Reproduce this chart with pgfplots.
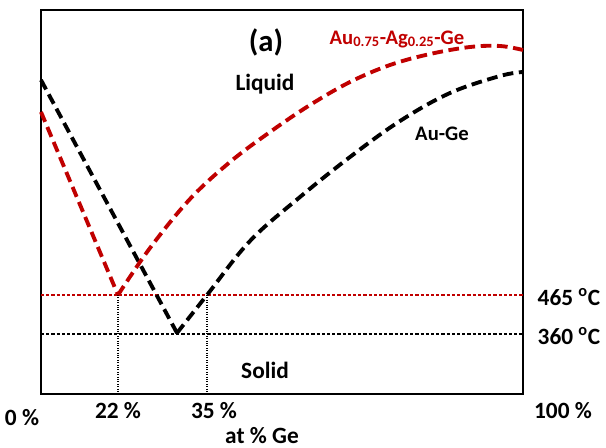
\documentclass[border=0pt]{standalone}
\usepackage{pgfplots}
\pgfplotsset{compat=1.18}
\usepackage{fontspec}
\setmainfont{Carlito}[BoldFont={Carlito Bold}]
\definecolor{dred}{RGB}{192,0,0}
\begin{document}
\begin{tikzpicture}[font=\bfseries]
\path[use as bounding box] (0,0) rectangle (454.5pt,-336pt);
\begin{axis}[
  at={(30.75pt,-295.5pt)}, anchor=south west,
  scale only axis, width=361.5pt, height=288pt,
  xmin=41, xmax=523, ymin=10, ymax=394, y dir=reverse,
  xtick=\empty, ytick=\empty,
  axis line style={line width=1.9pt, black},
  clip=false,
  every axis plot/.append style={no markers},
]
% thin reference lines
\addplot[dred, line width=1.1pt, dash pattern=on 2.4pt off 1.5pt] coordinates {(41,295) (523,295)};
\addplot[black, line width=1.1pt, dash pattern=on 2.4pt off 1.5pt] coordinates {(41,334) (523,334)};
\addplot[black, line width=0.8pt, dash pattern=on 0.8pt off 1.0pt] coordinates {(118,295) (118,394)};
\addplot[black, line width=0.8pt, dash pattern=on 0.8pt off 1.0pt] coordinates {(207,295) (207,394)};
% Au-Ge liquidus
\addplot[black, line width=2.9pt, dash pattern=on 8pt off 4.2pt] coordinates {(41,80) (177,333)};
\addplot[black, line width=2.9pt, dash pattern=on 8pt off 4.2pt, smooth, tension=0.6] coordinates {
(177,333) (207,295) (250,241) (300,197) (350,157) (400,121) (450,93) (500,76) (523,72)};
% Au0.75-Ag0.25-Ge liquidus
\addplot[dred, line width=2.9pt, dash pattern=on 8pt off 4.2pt] coordinates {(41,112) (118,295)};
\addplot[dred, line width=2.9pt, dash pattern=on 8pt off 4.2pt, smooth, tension=0.6] coordinates {
(118,295) (150,248) (190,199) (230,162) (270,132) (310,105) (350,82) (390,65) (430,54) (470,47) (500,46) (523,50)};
% labels
\node[font=\fontsize{23}{26}\selectfont\bfseries] at (axis cs:266,42) {(a)};
\node[font=\fontsize{17.5}{20}\selectfont\bfseries] at (axis cs:265,84) {Liquid};
\node[font=\fontsize{17.5}{20}\selectfont\bfseries] at (axis cs:265,370) {Solid};
\node[font=\fontsize{15.5}{18}\selectfont\bfseries, text=dred] at (axis cs:397,39) {Au\textsubscript{0.75}-Ag\textsubscript{0.25}-Ge};
\node[font=\fontsize{15.5}{18}\selectfont\bfseries] at (axis cs:442,134) {Au-Ge};
\node[font=\fontsize{17.5}{20}\selectfont\bfseries, anchor=west] at (axis cs:533,297) {465 \textsuperscript{o}C};
\node[font=\fontsize{17.5}{20}\selectfont\bfseries, anchor=west] at (axis cs:533,336) {360 \textsuperscript{o}C};
\node[font=\fontsize{17.5}{20}\selectfont\bfseries] at (axis cs:22,418) {0 \%};
\node[font=\fontsize{17.5}{20}\selectfont\bfseries] at (axis cs:118,411) {22 \%};
\node[font=\fontsize{17.5}{20}\selectfont\bfseries] at (axis cs:214,411) {35 \%};
\node[font=\fontsize{17.5}{20}\selectfont\bfseries] at (axis cs:563,411) {100 \%};
\node[font=\fontsize{17.5}{20}\selectfont\bfseries] at (axis cs:262,436) {at \% Ge};
\end{axis}
\end{tikzpicture}
\end{document}
